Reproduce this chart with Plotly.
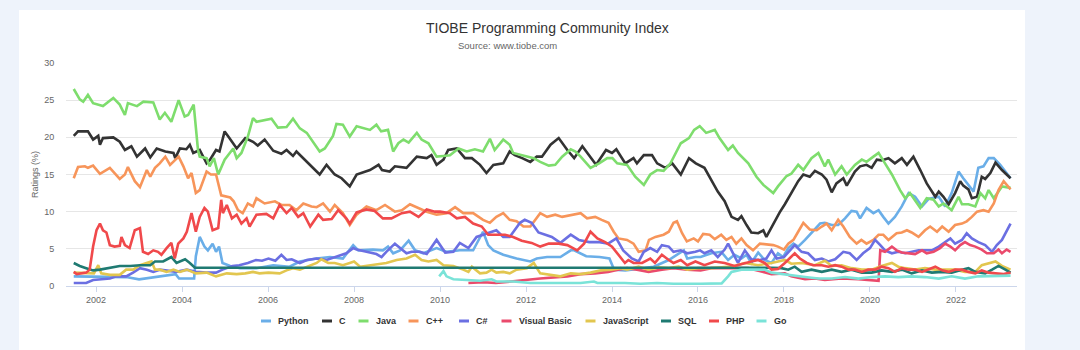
import plotly.graph_objects as go

# ---------------- data (fractional year, rating %) ----------------
python_t = [2001.48, 2002.09, 2002.70, 2003.00, 2003.48, 2003.85, 2003.93, 2004.18, 2004.28, 2004.32, 2004.41, 2004.52, 2004.60, 2004.71, 2004.79, 2004.86, 2004.94, 2005.12, 2005.35, 2005.73, 2006.12, 2006.50, 2006.74, 2007.13, 2007.44, 2007.74, 2007.98, 2008.10, 2008.44, 2008.67, 2008.79, 2008.91, 2009.07, 2009.27, 2009.42, 2009.61, 2009.92, 2010.15, 2010.46, 2010.77, 2011.00, 2011.12, 2011.24, 2011.47, 2011.78, 2012.10, 2012.25, 2012.49, 2012.80, 2013.04, 2013.12, 2013.40, 2013.71, 2013.94, 2014.05, 2014.31, 2014.66, 2014.97, 2015.32, 2015.67, 2015.75, 2015.94, 2016.06, 2016.31, 2016.54, 2016.70, 2016.85, 2017.01, 2017.13, 2017.24, 2017.40, 2017.55, 2017.71, 2017.86, 2017.98, 2018.10, 2018.22, 2018.33, 2018.49, 2018.64, 2018.84, 2018.95, 2019.11, 2019.26, 2019.42, 2019.57, 2019.69, 2019.77, 2019.92, 2020.08, 2020.20, 2020.31, 2020.43, 2020.58, 2020.74, 2020.90, 2021.05, 2021.21, 2021.36, 2021.60, 2021.75, 2021.90, 2022.06, 2022.17, 2022.29, 2022.41, 2022.52, 2022.64, 2022.76, 2022.88, 2023.03, 2023.27]
python_v = [1.3, 1.3, 1.2, 0.9, 1.3, 1.6, 1.0, 1.0, 1.0, 4.0, 6.6, 5.3, 4.8, 5.7, 4.6, 5.3, 3.1, 2.7, 2.4, 2.4, 2.8, 2.6, 3.3, 3.7, 3.9, 3.7, 5.5, 4.8, 4.9, 4.8, 5.3, 4.4, 4.8, 6.1, 4.8, 4.4, 5.1, 4.6, 4.8, 4.8, 7.3, 5.5, 4.8, 4.2, 3.7, 3.3, 3.7, 3.9, 3.9, 4.8, 4.8, 4.0, 3.9, 3.7, 2.2, 2.1, 2.4, 2.6, 3.5, 4.8, 3.7, 3.9, 3.9, 4.4, 4.6, 3.5, 4.2, 3.7, 4.2, 3.1, 4.5, 3.5, 3.1, 4.4, 3.9, 5.1, 5.7, 5.3, 6.2, 7.2, 8.4, 8.5, 8.2, 8.2, 9.1, 10.1, 10.0, 9.1, 10.5, 9.8, 10.2, 9.3, 8.4, 9.3, 10.7, 12.5, 12.0, 10.7, 11.7, 12.0, 10.7, 12.5, 15.4, 14.5, 13.6, 12.7, 15.9, 16.1, 17.2, 17.2, 16.3, 14.5]

c_t = [2001.48, 2001.58, 2001.81, 2001.93, 2002.05, 2002.09, 2002.16, 2002.40, 2002.55, 2002.67, 2002.82, 2002.95, 2003.14, 2003.26, 2003.41, 2003.61, 2003.80, 2003.84, 2003.95, 2004.10, 2004.18, 2004.26, 2004.41, 2004.57, 2004.65, 2004.79, 2004.87, 2004.99, 2005.10, 2005.27, 2005.47, 2005.65, 2005.76, 2005.92, 2006.12, 2006.31, 2006.43, 2006.58, 2006.66, 2006.82, 2007.01, 2007.20, 2007.36, 2007.55, 2007.71, 2007.90, 2008.06, 2008.37, 2008.57, 2008.65, 2008.83, 2008.95, 2009.22, 2009.46, 2009.69, 2009.80, 2009.92, 2010.08, 2010.19, 2010.39, 2010.58, 2010.74, 2010.93, 2011.08, 2011.24, 2011.47, 2011.62, 2011.74, 2011.91, 2012.10, 2012.25, 2012.37, 2012.57, 2012.76, 2012.96, 2013.12, 2013.31, 2013.43, 2013.63, 2013.86, 2014.00, 2014.10, 2014.22, 2014.31, 2014.50, 2014.58, 2014.74, 2014.93, 2015.05, 2015.24, 2015.40, 2015.60, 2015.79, 2015.95, 2016.15, 2016.31, 2016.46, 2016.62, 2016.78, 2016.93, 2017.01, 2017.13, 2017.24, 2017.40, 2017.52, 2017.59, 2017.75, 2017.90, 2018.02, 2018.17, 2018.33, 2018.45, 2018.60, 2018.72, 2018.88, 2018.99, 2019.11, 2019.22, 2019.38, 2019.46, 2019.57, 2019.65, 2019.77, 2019.92, 2020.04, 2020.16, 2020.27, 2020.43, 2020.58, 2020.74, 2020.86, 2021.01, 2021.17, 2021.32, 2021.52, 2021.60, 2021.71, 2021.83, 2021.98, 2022.10, 2022.17, 2022.29, 2022.37, 2022.49, 2022.60, 2022.68, 2022.80, 2022.92, 2023.07, 2023.27]
c_v = [20.2, 20.8, 20.8, 19.7, 20.2, 19.0, 19.9, 20.0, 19.4, 18.3, 18.8, 17.4, 18.5, 17.3, 18.5, 18.1, 17.9, 17.2, 18.5, 18.4, 19.0, 17.9, 18.3, 16.5, 17.0, 18.3, 18.1, 20.8, 19.9, 18.5, 19.9, 19.4, 18.9, 19.7, 18.2, 17.8, 18.3, 17.5, 18.1, 17.2, 16.1, 15.0, 16.3, 15.0, 14.5, 13.4, 15.0, 15.6, 16.3, 15.6, 15.4, 16.1, 15.9, 17.4, 17.2, 17.6, 16.3, 17.0, 18.3, 18.5, 17.2, 17.2, 16.3, 15.2, 16.3, 16.5, 18.1, 17.6, 17.2, 16.7, 17.4, 17.4, 19.0, 19.9, 18.3, 17.2, 18.8, 17.9, 16.3, 18.3, 17.9, 18.4, 17.4, 16.5, 17.2, 16.5, 17.6, 17.6, 16.5, 15.9, 16.5, 15.0, 17.2, 16.5, 15.9, 14.3, 12.7, 11.4, 9.3, 8.9, 9.4, 8.2, 7.2, 7.1, 7.5, 6.6, 8.4, 9.9, 11.0, 12.5, 14.1, 15.0, 14.7, 15.5, 15.0, 14.3, 12.6, 13.8, 14.5, 13.5, 14.7, 15.4, 16.1, 16.3, 15.9, 17.0, 16.9, 17.2, 16.5, 17.2, 16.3, 17.4, 15.6, 13.8, 12.0, 12.7, 12.0, 11.0, 12.5, 14.1, 13.5, 13.0, 11.8, 12.0, 14.7, 14.4, 15.2, 16.6, 15.6, 14.5]

java_t = [2001.48, 2001.62, 2001.70, 2001.81, 2001.93, 2002.16, 2002.40, 2002.55, 2002.67, 2002.74, 2002.95, 2003.10, 2003.33, 2003.48, 2003.60, 2003.75, 2003.92, 2004.06, 2004.14, 2004.27, 2004.37, 2004.41, 2004.57, 2004.64, 2004.74, 2004.84, 2004.99, 2005.19, 2005.27, 2005.38, 2005.53, 2005.65, 2005.73, 2005.96, 2006.08, 2006.23, 2006.43, 2006.58, 2006.74, 2006.90, 2007.05, 2007.20, 2007.32, 2007.51, 2007.59, 2007.74, 2007.90, 2008.06, 2008.37, 2008.52, 2008.63, 2008.79, 2008.91, 2009.03, 2009.15, 2009.27, 2009.46, 2009.57, 2009.73, 2009.92, 2010.08, 2010.23, 2010.43, 2010.62, 2010.81, 2011.00, 2011.16, 2011.27, 2011.47, 2011.62, 2011.70, 2011.95, 2012.18, 2012.33, 2012.53, 2012.68, 2012.84, 2013.04, 2013.15, 2013.27, 2013.50, 2013.70, 2013.89, 2014.01, 2014.12, 2014.35, 2014.54, 2014.74, 2014.89, 2015.05, 2015.20, 2015.36, 2015.60, 2015.79, 2015.91, 2016.04, 2016.19, 2016.39, 2016.50, 2016.70, 2016.81, 2016.93, 2017.17, 2017.36, 2017.52, 2017.75, 2017.86, 2018.06, 2018.17, 2018.33, 2018.45, 2018.64, 2018.80, 2018.95, 2019.03, 2019.19, 2019.34, 2019.46, 2019.65, 2019.81, 2019.92, 2020.08, 2020.20, 2020.35, 2020.51, 2020.70, 2020.82, 2020.93, 2021.17, 2021.32, 2021.48, 2021.60, 2021.71, 2021.90, 2022.06, 2022.14, 2022.29, 2022.45, 2022.57, 2022.68, 2022.76, 2022.88, 2023.07, 2023.27]
java_v = [26.5, 25.1, 24.8, 25.7, 24.6, 24.2, 25.3, 24.4, 23.0, 24.6, 24.2, 24.8, 24.7, 22.4, 23.3, 22.1, 25.0, 22.8, 23.0, 24.4, 18.3, 17.4, 17.2, 16.1, 17.2, 15.0, 17.0, 18.5, 17.2, 17.9, 20.1, 22.6, 22.1, 22.3, 22.5, 21.3, 21.4, 22.5, 21.2, 20.6, 19.4, 18.1, 18.5, 20.2, 21.8, 21.7, 20.1, 21.5, 21.0, 21.7, 20.8, 21.0, 18.1, 19.2, 19.7, 19.3, 20.6, 19.7, 19.2, 17.4, 17.5, 17.6, 18.5, 18.1, 18.4, 18.1, 19.8, 18.3, 19.7, 19.0, 17.9, 17.5, 17.2, 16.7, 16.2, 16.3, 17.4, 18.4, 18.1, 17.4, 15.9, 16.5, 17.2, 17.2, 16.5, 16.3, 14.7, 13.6, 15.0, 15.6, 15.5, 16.5, 19.2, 19.9, 21.0, 21.5, 20.6, 21.0, 19.9, 18.3, 18.9, 17.9, 16.5, 14.7, 13.6, 12.5, 13.4, 14.8, 15.1, 16.3, 15.6, 17.2, 17.9, 16.1, 17.0, 15.0, 16.1, 15.0, 16.3, 17.0, 16.7, 17.4, 17.9, 16.5, 15.0, 12.9, 11.8, 12.5, 10.5, 11.8, 11.6, 10.7, 11.1, 10.2, 12.0, 11.0, 11.0, 10.7, 12.5, 11.8, 12.9, 11.8, 13.4, 13.2]

cpp_t = [2001.48, 2001.58, 2001.74, 2001.81, 2001.93, 2002.09, 2002.32, 2002.47, 2002.55, 2002.67, 2002.74, 2002.90, 2003.02, 2003.18, 2003.26, 2003.37, 2003.48, 2003.61, 2003.72, 2003.92, 2004.03, 2004.14, 2004.22, 2004.32, 2004.41, 2004.57, 2004.67, 2004.79, 2004.91, 2005.12, 2005.20, 2005.30, 2005.41, 2005.53, 2005.65, 2005.73, 2005.92, 2006.16, 2006.31, 2006.50, 2006.66, 2006.82, 2007.01, 2007.13, 2007.28, 2007.44, 2007.55, 2007.74, 2007.90, 2008.06, 2008.29, 2008.52, 2008.72, 2008.95, 2009.11, 2009.30, 2009.50, 2009.69, 2009.92, 2010.15, 2010.35, 2010.54, 2010.77, 2011.00, 2011.16, 2011.31, 2011.47, 2011.62, 2011.78, 2011.94, 2012.10, 2012.33, 2012.49, 2012.68, 2012.84, 2013.07, 2013.27, 2013.42, 2013.61, 2013.76, 2013.92, 2014.04, 2014.15, 2014.35, 2014.50, 2014.62, 2014.78, 2014.86, 2015.01, 2015.20, 2015.32, 2015.43, 2015.51, 2015.63, 2015.74, 2015.90, 2016.00, 2016.12, 2016.27, 2016.39, 2016.54, 2016.66, 2016.78, 2016.89, 2017.01, 2017.13, 2017.28, 2017.44, 2017.59, 2017.75, 2017.86, 2018.00, 2018.10, 2018.22, 2018.33, 2018.45, 2018.60, 2018.76, 2018.88, 2018.99, 2019.11, 2019.26, 2019.38, 2019.53, 2019.69, 2019.80, 2019.92, 2020.08, 2020.20, 2020.31, 2020.43, 2020.62, 2020.74, 2020.86, 2020.97, 2021.13, 2021.28, 2021.40, 2021.56, 2021.68, 2021.83, 2021.98, 2022.14, 2022.25, 2022.37, 2022.49, 2022.64, 2022.76, 2022.88, 2022.99, 2023.11, 2023.18, 2023.27]
cpp_v = [14.5, 16.0, 16.1, 15.9, 16.2, 15.1, 15.9, 15.0, 14.4, 15.0, 16.0, 14.1, 13.3, 15.6, 14.7, 15.9, 16.5, 17.4, 16.3, 17.4, 16.1, 14.5, 15.2, 12.5, 12.9, 15.4, 15.0, 15.0, 12.2, 11.9, 11.4, 10.2, 9.8, 11.1, 10.7, 11.8, 11.1, 11.4, 10.9, 10.9, 10.2, 11.1, 10.7, 10.6, 11.1, 10.0, 10.9, 9.8, 8.2, 9.6, 10.7, 10.2, 10.9, 10.0, 10.2, 11.0, 10.5, 10.0, 9.6, 9.8, 10.6, 9.8, 9.8, 8.9, 8.5, 9.3, 9.8, 8.9, 8.7, 8.0, 8.0, 9.8, 9.3, 9.6, 9.3, 9.6, 9.8, 9.1, 9.3, 8.9, 8.5, 7.3, 6.4, 6.2, 5.7, 4.6, 4.8, 6.2, 6.6, 6.9, 7.3, 8.5, 8.7, 7.1, 6.0, 6.4, 6.0, 7.0, 6.9, 6.3, 6.9, 6.2, 6.6, 5.7, 6.4, 5.5, 4.8, 5.7, 5.6, 5.5, 5.3, 4.9, 5.7, 6.2, 7.3, 8.5, 7.6, 7.5, 8.0, 8.4, 7.5, 8.9, 8.0, 6.6, 5.7, 6.2, 5.7, 6.2, 6.9, 6.9, 6.2, 7.1, 7.2, 7.5, 7.2, 6.6, 7.5, 8.0, 7.3, 8.0, 7.3, 8.2, 8.4, 8.7, 9.3, 10.0, 10.2, 10.0, 11.1, 12.9, 14.1, 13.6, 13.0]

csharp_t = [2001.48, 2001.77, 2001.93, 2002.16, 2002.32, 2002.47, 2002.70, 2002.86, 2003.02, 2003.18, 2003.33, 2003.48, 2003.64, 2003.87, 2004.11, 2004.32, 2004.57, 2004.79, 2004.94, 2005.17, 2005.33, 2005.53, 2005.72, 2005.86, 2006.01, 2006.17, 2006.31, 2006.43, 2006.55, 2006.74, 2006.90, 2007.13, 2007.36, 2007.59, 2007.82, 2007.98, 2008.06, 2008.29, 2008.52, 2008.64, 2008.75, 2008.95, 2009.07, 2009.22, 2009.34, 2009.53, 2009.69, 2009.92, 2010.12, 2010.31, 2010.46, 2010.66, 2010.85, 2011.00, 2011.16, 2011.31, 2011.47, 2011.62, 2011.86, 2011.97, 2012.13, 2012.29, 2012.45, 2012.60, 2012.80, 2013.04, 2013.23, 2013.47, 2013.71, 2013.91, 2014.10, 2014.26, 2014.46, 2014.62, 2014.74, 2014.89, 2015.05, 2015.16, 2015.32, 2015.43, 2015.60, 2015.75, 2015.94, 2016.05, 2016.15, 2016.31, 2016.46, 2016.62, 2016.70, 2016.81, 2016.93, 2017.09, 2017.24, 2017.44, 2017.59, 2017.71, 2017.83, 2018.00, 2018.14, 2018.25, 2018.41, 2018.56, 2018.72, 2018.88, 2019.03, 2019.19, 2019.38, 2019.53, 2019.69, 2019.84, 2020.00, 2020.12, 2020.24, 2020.35, 2020.51, 2020.66, 2020.82, 2020.97, 2021.13, 2021.28, 2021.44, 2021.60, 2021.75, 2021.87, 2021.98, 2022.14, 2022.25, 2022.37, 2022.52, 2022.68, 2022.84, 2022.95, 2023.07, 2023.18, 2023.27]
csharp_v = [0.4, 0.4, 0.8, 0.9, 1.0, 1.3, 1.3, 1.8, 2.4, 2.2, 1.9, 2.2, 2.1, 1.9, 2.2, 1.9, 1.8, 1.8, 2.2, 2.7, 2.8, 3.1, 3.5, 3.4, 3.7, 3.4, 4.2, 3.5, 3.6, 3.1, 3.5, 3.7, 3.5, 4.0, 4.4, 5.1, 4.9, 4.6, 4.3, 3.9, 4.6, 5.7, 5.1, 4.4, 4.6, 4.6, 4.3, 6.2, 4.5, 4.6, 5.8, 5.1, 6.6, 6.9, 7.3, 7.5, 6.6, 6.6, 8.5, 8.9, 8.5, 7.2, 6.9, 6.6, 5.8, 6.9, 6.2, 5.9, 5.9, 5.7, 6.4, 4.8, 3.7, 3.3, 4.6, 5.1, 4.6, 5.5, 5.3, 4.6, 4.8, 4.4, 4.6, 4.8, 4.4, 4.8, 3.9, 4.9, 5.7, 4.5, 3.1, 4.8, 3.6, 3.5, 3.7, 4.8, 3.7, 3.9, 4.8, 5.5, 4.6, 4.4, 3.5, 3.7, 3.3, 3.6, 4.6, 4.4, 3.5, 4.4, 5.1, 6.2, 5.5, 4.8, 4.4, 4.6, 4.4, 4.6, 4.8, 4.8, 4.8, 5.3, 5.9, 6.4, 5.7, 6.2, 7.1, 6.4, 5.9, 5.5, 4.6, 5.5, 6.2, 7.3, 8.4]

vb_t = [2010.66, 2011.00, 2011.30, 2011.60, 2012.00, 2012.33, 2012.96, 2013.27, 2013.60, 2013.91, 2014.14, 2014.35, 2014.58, 2014.85, 2015.16, 2015.43, 2015.75, 2016.06, 2016.31, 2016.78, 2017.17, 2017.45, 2017.71, 2018.02, 2018.17, 2018.49, 2018.72, 2018.95, 2019.34, 2019.73, 2020.04, 2020.20, 2020.24, 2020.35, 2020.51, 2020.62, 2020.74, 2020.90, 2021.05, 2021.21, 2021.32, 2021.48, 2021.63, 2021.75, 2021.87, 2021.98, 2022.10, 2022.21, 2022.33, 2022.45, 2022.60, 2022.72, 2022.88, 2022.99, 2023.07, 2023.18, 2023.27]
vb_v = [0.4, 0.5, 0.4, 0.6, 0.8, 1.0, 1.3, 1.6, 1.7, 1.9, 2.2, 2.4, 2.2, 1.9, 2.2, 2.4, 2.2, 2.1, 2.4, 2.4, 2.4, 2.0, 1.6, 1.7, 1.3, 0.9, 1.0, 0.8, 1.0, 0.9, 0.8, 0.7, 4.8, 4.6, 5.3, 4.8, 4.5, 4.4, 4.3, 4.8, 4.4, 4.6, 5.1, 5.7, 5.3, 4.8, 5.5, 5.9, 5.5, 5.3, 4.9, 4.4, 4.4, 4.9, 4.4, 4.9, 4.6]

js_t = [2001.48, 2001.95, 2002.05, 2002.12, 2002.32, 2002.55, 2002.70, 2002.86, 2003.02, 2003.18, 2003.29, 2003.37, 2003.48, 2003.64, 2003.80, 2003.95, 2004.11, 2004.32, 2004.57, 2004.79, 2005.04, 2005.27, 2005.47, 2005.65, 2005.80, 2006.01, 2006.27, 2006.43, 2006.58, 2006.74, 2006.90, 2007.13, 2007.24, 2007.40, 2007.55, 2007.74, 2007.90, 2008.00, 2008.14, 2008.44, 2008.75, 2008.99, 2009.22, 2009.42, 2009.57, 2009.73, 2009.92, 2010.08, 2010.31, 2010.54, 2010.66, 2010.74, 2010.93, 2011.08, 2011.20, 2011.31, 2011.47, 2011.62, 2011.78, 2012.02, 2012.18, 2012.33, 2012.53, 2012.80, 2013.04, 2013.27, 2013.50, 2013.74, 2013.98, 2014.20, 2014.35, 2014.62, 2014.85, 2015.08, 2015.32, 2015.55, 2015.75, 2016.00, 2016.31, 2016.78, 2017.09, 2017.40, 2017.71, 2017.86, 2018.02, 2018.17, 2018.41, 2018.72, 2018.95, 2019.11, 2019.34, 2019.57, 2019.81, 2020.04, 2020.27, 2020.51, 2020.66, 2020.82, 2021.05, 2021.28, 2021.52, 2021.75, 2021.98, 2022.21, 2022.45, 2022.60, 2022.76, 2022.92, 2023.07, 2023.27]
js_v = [1.8, 1.7, 2.8, 1.7, 1.5, 1.5, 2.2, 2.2, 2.8, 3.1, 3.3, 2.2, 2.2, 1.9, 2.2, 1.9, 2.2, 1.7, 1.8, 1.3, 1.7, 1.6, 1.7, 1.9, 1.7, 1.8, 1.7, 2.1, 2.4, 2.2, 2.6, 3.1, 3.6, 3.1, 3.1, 2.8, 3.1, 3.3, 2.6, 2.8, 3.1, 3.5, 3.7, 4.2, 3.5, 3.3, 3.5, 2.8, 2.7, 2.2, 1.9, 2.6, 1.7, 1.8, 2.2, 1.8, 1.9, 1.7, 2.2, 2.4, 3.1, 1.7, 1.5, 1.3, 1.7, 1.6, 1.8, 2.1, 2.2, 2.4, 2.2, 2.6, 2.2, 2.5, 2.4, 2.6, 2.2, 2.4, 2.4, 2.6, 3.1, 2.8, 3.1, 3.3, 3.5, 3.0, 3.1, 2.8, 3.4, 2.7, 2.8, 2.4, 2.2, 2.2, 2.7, 3.1, 2.6, 2.4, 2.2, 2.4, 2.2, 2.2, 2.2, 1.9, 1.9, 2.8, 3.1, 3.3, 2.7, 2.2]

sql_t = [2001.48, 2001.62, 2001.77, 2001.93, 2002.09, 2002.32, 2002.55, 2002.79, 2003.02, 2003.26, 2003.37, 2003.56, 2003.75, 2003.87, 2004.07, 2004.18, 2004.30, 2017.70, 2017.94, 2018.10, 2018.25, 2018.41, 2018.64, 2018.88, 2019.11, 2019.34, 2019.57, 2019.81, 2020.04, 2020.27, 2020.51, 2020.74, 2020.97, 2021.21, 2021.44, 2021.67, 2021.90, 2022.14, 2022.29, 2022.45, 2022.68, 2022.84, 2022.99, 2023.15, 2023.27]
sql_v = [3.1, 2.7, 2.4, 2.1, 2.2, 2.4, 2.7, 2.7, 2.8, 2.8, 3.3, 3.3, 3.9, 3.1, 3.6, 3.1, 2.45, 2.45, 2.4, 2.2, 2.6, 1.9, 2.2, 1.9, 2.2, 1.9, 2.2, 1.8, 1.8, 2.1, 1.9, 2.2, 1.7, 2.1, 1.8, 1.9, 1.8, 2.2, 2.4, 1.9, 1.7, 2.2, 2.7, 2.2, 1.8]

php_t = [2001.48, 2001.55, 2001.77, 2001.85, 2001.93, 2002.01, 2002.09, 2002.16, 2002.24, 2002.32, 2002.43, 2002.55, 2002.59, 2002.67, 2002.78, 2002.90, 2003.02, 2003.06, 2003.09, 2003.21, 2003.33, 2003.44, 2003.52, 2003.64, 2003.75, 2003.83, 2003.91, 2004.03, 2004.11, 2004.22, 2004.26, 2004.32, 2004.41, 2004.52, 2004.60, 2004.71, 2004.84, 2004.91, 2004.95, 2005.04, 2005.16, 2005.27, 2005.38, 2005.50, 2005.57, 2005.73, 2005.96, 2006.12, 2006.27, 2006.43, 2006.55, 2006.70, 2006.82, 2006.98, 2007.17, 2007.28, 2007.48, 2007.63, 2007.82, 2007.90, 2008.06, 2008.29, 2008.48, 2008.67, 2008.87, 2009.11, 2009.30, 2009.50, 2009.69, 2009.88, 2010.00, 2010.23, 2010.39, 2010.58, 2010.77, 2010.97, 2011.12, 2011.31, 2011.51, 2011.70, 2011.90, 2012.13, 2012.33, 2012.53, 2012.76, 2012.96, 2013.19, 2013.35, 2013.50, 2013.66, 2013.84, 2014.00, 2014.14, 2014.30, 2014.38, 2014.50, 2014.70, 2014.89, 2015.00, 2015.16, 2015.32, 2015.43, 2015.60, 2015.75, 2015.94, 2016.15, 2016.39, 2016.62, 2016.85, 2017.09, 2017.24, 2017.40, 2017.55, 2017.71, 2017.86, 2018.02, 2018.17, 2018.25, 2018.37, 2018.53, 2018.68, 2018.88, 2019.03, 2019.19, 2019.34, 2019.50, 2019.65, 2019.81, 2019.96, 2020.12, 2020.27, 2020.43, 2020.58, 2020.74, 2020.90, 2021.05, 2021.21, 2021.36, 2021.52, 2021.68, 2021.83, 2021.98, 2022.14, 2022.29, 2022.45, 2022.60, 2022.76, 2022.92, 2023.11, 2023.27]
php_v = [1.9, 1.6, 1.8, 2.2, 5.3, 7.5, 8.4, 7.5, 7.2, 5.5, 5.3, 5.4, 6.6, 5.5, 5.1, 7.5, 7.8, 5.7, 4.6, 4.3, 4.8, 4.6, 4.2, 5.1, 5.8, 3.7, 5.7, 6.4, 7.3, 9.8, 8.9, 7.3, 9.3, 10.5, 10.0, 7.5, 7.8, 11.6, 9.8, 10.9, 9.1, 9.6, 8.4, 9.1, 8.0, 9.6, 9.7, 9.1, 10.9, 9.8, 10.5, 9.3, 9.8, 8.0, 9.6, 8.9, 9.0, 10.2, 9.1, 8.4, 9.9, 10.3, 10.1, 9.1, 9.1, 9.8, 10.0, 9.3, 10.3, 10.0, 10.0, 9.8, 9.1, 9.3, 8.4, 8.0, 6.9, 6.9, 6.9, 6.6, 6.1, 5.8, 5.3, 5.7, 5.7, 5.5, 4.8, 5.7, 7.3, 6.4, 5.9, 5.3, 4.2, 3.1, 3.5, 3.1, 3.1, 3.7, 3.1, 4.2, 3.5, 3.1, 3.5, 2.8, 3.3, 2.8, 3.3, 3.1, 2.7, 3.1, 3.3, 3.5, 3.1, 2.2, 2.3, 3.1, 3.9, 4.4, 3.7, 3.1, 2.8, 2.8, 2.6, 2.8, 2.6, 2.2, 2.2, 1.9, 2.2, 2.2, 2.6, 2.4, 1.9, 2.4, 2.2, 2.2, 1.9, 2.2, 2.6, 2.1, 1.9, 2.2, 2.2, 1.9, 1.7, 2.1, 1.8, 1.7, 1.6, 1.8]

go_t = [2009.98, 2010.08, 2010.15, 2010.31, 2010.62, 2010.93, 2011.20, 2011.31, 2011.70, 2012.10, 2012.70, 2013.27, 2013.58, 2013.66, 2014.30, 2014.66, 2015.05, 2015.43, 2016.06, 2016.55, 2016.70, 2016.78, 2017.01, 2017.32, 2017.55, 2017.71, 2017.94, 2018.17, 2018.49, 2018.80, 2019.11, 2019.42, 2019.73, 2020.04, 2020.35, 2020.66, 2020.97, 2021.28, 2021.60, 2021.90, 2022.21, 2022.52, 2022.84, 2023.15, 2023.27]
go_v = [1.3, 2.0, 1.3, 0.9, 0.8, 0.7, 0.9, 0.6, 0.6, 0.4, 0.4, 0.4, 0.6, 0.4, 0.4, 0.3, 0.4, 0.3, 0.3, 0.35, 1.3, 1.9, 2.2, 2.2, 2.2, 1.8, 1.6, 1.5, 1.2, 1.0, 1.0, 1.2, 1.0, 1.2, 1.3, 1.2, 1.3, 1.2, 1.0, 1.3, 1.0, 1.3, 1.3, 1.3, 1.4]

series_names = ["Python", "C", "Java", "C++", "C#", "Visual Basic", "JavaScript", "SQL", "PHP", "Go"]
series_t = [python_t, c_t, java_t, cpp_t, csharp_t, vb_t, js_t, sql_t, php_t, go_t]
series_v = [python_v, c_v, java_v, cpp_v, csharp_v, vb_v, js_v, sql_v, php_v, go_v]

x_tick_years = [2002, 2004, 2006, 2008, 2010, 2012, 2014, 2016, 2018, 2020, 2022]
y_ticks = [0, 5, 10, 15, 20, 25, 30]

# ---------------- style / layout ----------------
colors = ["#6aaee8", "#333333", "#7edd6d", "#f7955a", "#6b6fe2", "#ea4a6c",
          "#e2c64f", "#1f7a72", "#f0494b", "#7ae3d8"]
legend_px = [261, 322, 358.5, 408.5, 459, 501.5, 585.5, 661, 709, 756.5]

W, H = 1080, 350
L, R, T, B = 66, 1017, 63, 286  # plot area in pixels


def px(xpix):
    return (xpix - L) / (R - L)


def py(ypix):
    return (B - ypix) / (B - T)


FONT = "Liberation Sans, Arial, sans-serif"

fig = go.Figure()
for name, t, v, col in zip(series_names, series_t, series_v, colors):
    fig.add_trace(go.Scatter(x=t, y=v, mode="lines", name=name,
                             line=dict(color=col, width=2.6),
                             showlegend=False, hoverinfo="skip"))

shapes = [dict(type="rect", xref="paper", yref="paper", layer="below",
               x0=px(19), x1=px(1025), y0=py(351), y1=py(10),
               fillcolor="white", line=dict(width=0))]
annotations = [
    dict(text="TIOBE Programming Community Index", x=px(547), y=py(28),
         xref="paper", yref="paper", showarrow=False, xanchor="center", yanchor="middle",
         font=dict(family=FONT, size=14, color="#333333")),
    dict(text="Source: www.tiobe.com", x=px(507), y=py(45),
         xref="paper", yref="paper", showarrow=False, xanchor="center", yanchor="middle",
         font=dict(family=FONT, size=9.5, color="#666666")),
    dict(text="Ratings (%)", x=px(35), y=py(175), textangle=-90,
         xref="paper", yref="paper", showarrow=False, xanchor="center", yanchor="middle",
         font=dict(family=FONT, size=9, color="#666666")),
]
for name, col, lx in zip(series_names, colors, legend_px):
    shapes.append(dict(type="line", xref="paper", yref="paper",
                       x0=px(lx), x1=px(lx + 10), y0=py(321), y1=py(321),
                       line=dict(color=col, width=3)))
    annotations.append(dict(text=name, x=px(lx + 15), y=py(321), xref="paper", yref="paper",
                            showarrow=False, xanchor="left", yanchor="middle",
                            font=dict(family=FONT, size=9, color="#333333", weight="bold")))

fig.update_layout(
    width=W, height=H,
    margin=dict(l=L, r=W - R, t=T, b=H - B, pad=0),
    paper_bgcolor="#eef3fb", plot_bgcolor="white",
    showlegend=False,
    font=dict(family=FONT, size=9, color="#666666"),
    shapes=shapes, annotations=annotations,
    xaxis=dict(range=[2001.30, 2023.42], tickvals=x_tick_years,
               ticktext=[str(y) for y in x_tick_years],
               showgrid=False, zeroline=False, showline=True, linecolor="#ccd6eb", linewidth=1,
               ticks="outside", ticklen=5, tickcolor="#ccd6eb",
               tickfont=dict(family=FONT, size=9, color="#666666"), fixedrange=True),
    yaxis=dict(range=[0, 30], tickvals=y_ticks, showgrid=True, gridcolor="#e6e6e6", gridwidth=1,
               zeroline=False, showline=False, ticks="outside", ticklen=9,
               tickcolor="rgba(0,0,0,0)",
               tickfont=dict(family=FONT, size=9, color="#666666"), fixedrange=True),
)

fig.write_html("out.html", include_plotlyjs=True, config={"displayModeBar": False})
